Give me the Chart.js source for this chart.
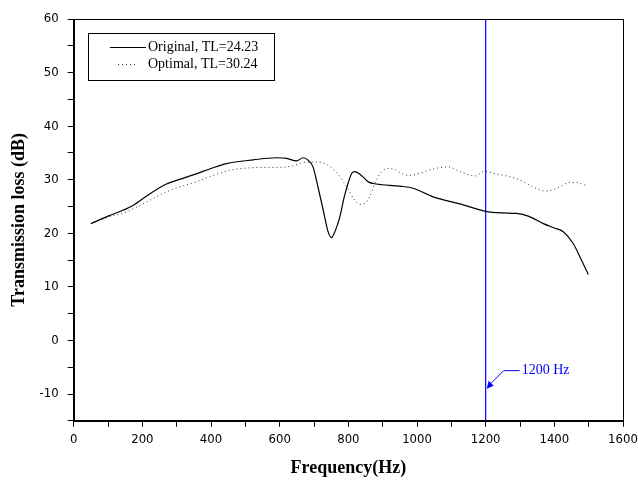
<!DOCTYPE html>
<html>
<head>
<meta charset="utf-8">
<script src="https://cdn.jsdelivr.net/npm/chart.js@4.4.1/dist/chart.umd.min.js"></script>
<style>
  html, body { margin: 0; padding: 0; background: #fff; }
  #wrap { width: 638px; height: 485px; }
</style>
</head>
<body>
<div id="wrap"><canvas id="tlChart"></canvas></div>
<script>
// transmission loss vs frequency
const origFreq = [50, 100, 173, 220, 270, 320, 357, 400, 445, 523, 590, 620, 649, 668, 680, 697, 712, 727, 740, 751, 762, 775, 787, 799, 810, 819, 838, 858, 882, 950, 989, 1047, 1125, 1200, 1250, 1290, 1324, 1368, 1400, 1426, 1455, 1479, 1499];
const origTL   = [21.8, 23.2, 25.2, 27.3, 29.2, 30.3, 31.1, 32.1, 33.0, 33.7, 34.1, 34.0, 33.5, 34.1, 33.8, 32.4, 28.5, 24.3, 20.5, 19.2, 20.5, 23.0, 26.5, 29.3, 31.2, 31.5, 30.8, 29.6, 29.2, 28.8, 28.4, 26.8, 25.5, 24.1, 23.8, 23.7, 23.2, 21.8, 21.0, 20.3, 18.1, 15.0, 12.3];

const optFreq = [50, 100, 153, 202, 240, 280, 320, 357, 406, 464, 510, 552, 600, 639, 668, 707, 736, 765, 795, 815, 833, 848, 862, 877, 892, 916, 935, 960, 980, 1003, 1047, 1091, 1125, 1169, 1198, 1222, 1261, 1290, 1319, 1343, 1373, 1395, 1416, 1445, 1460, 1480, 1494];
const optTL   = [21.8, 23.0, 24.0, 25.5, 26.8, 28.0, 28.9, 29.6, 30.8, 31.9, 32.2, 32.3, 32.3, 32.6, 33.2, 33.3, 32.9, 31.4, 28.7, 26.5, 25.4, 25.6, 26.8, 29.3, 31.1, 32.1, 31.9, 31.0, 30.8, 31.1, 32.0, 32.4, 31.5, 30.7, 31.6, 31.2, 30.7, 30.2, 29.3, 28.5, 27.9, 28.1, 28.7, 29.5, 29.5, 29.2, 28.9];

const seriesNames = ['Original, TL=24.23', 'Optimal, TL=30.24'];
const markerFreq = 1200;
const markerText = '1200 Hz';
const markerArrowTL = -9;
const xMin = 0, xMax = 1600;
const yMin = -15, yMax = 60;

const serif = '"Liberation Serif", "DejaVu Serif", serif';
const tickFont = '"Liberation Sans Narrow", "DejaVu Sans Condensed", "Liberation Sans", sans-serif';

function toPoints(xs, ys) {
  return xs.map((x, i) => ({ x: x, y: ys[i] }));
}

// box around the plot area
const framePlugin = {
  id: 'frame',
  afterDraw(chart) {
    const a = chart.chartArea, ctx = chart.ctx;
    ctx.save();
    ctx.strokeStyle = '#000';
    ctx.lineWidth = 1;
    ctx.strokeRect(Math.round(a.left) + 0.5, Math.round(a.top) + 0.5, Math.round(a.right - a.left), Math.round(a.bottom - a.top));
    ctx.restore();
  }
};

// legend box in upper left corner
const boxLegend = {
  id: 'boxLegend',
  afterDraw(chart) {
    const a = chart.chartArea, ctx = chart.ctx;
    const x0 = Math.round(a.left) + 14, y0 = Math.round(a.top) + 14;
    ctx.save();
    ctx.strokeStyle = '#000';
    ctx.lineWidth = 1;
    ctx.strokeRect(x0 + 0.5, y0 + 0.5, 186, 47);
    ctx.font = '14px ' + serif;
    ctx.fillStyle = '#000';
    ctx.textBaseline = 'middle';
    chart.data.datasets.slice(0, 2).forEach((ds, i) => {
      const yy = y0 + 14.5 + i * 17;
      ctx.beginPath();
      ctx.strokeStyle = ds.borderColor;
      ctx.setLineDash(ds.borderDash || []);
      if (i === 0) { ctx.moveTo(x0 + 22, yy); ctx.lineTo(x0 + 58, yy); }
      else { ctx.moveTo(x0 + 30, yy); ctx.lineTo(x0 + 48, yy); }
      ctx.stroke();
      ctx.setLineDash([]);
      ctx.fillText(ds.label, x0 + 60, yy);
    });
    ctx.restore();
  }
};

// arrow + text pointing at the marker line
const markerNote = {
  id: 'markerNote',
  afterDatasetsDraw(chart) {
    const xs = chart.scales.x, ys = chart.scales.y, ctx = chart.ctx;
    const tipX = xs.getPixelForValue(markerFreq) + 1;
    const tipY = ys.getPixelForValue(markerArrowTL);
    ctx.save();
    ctx.strokeStyle = '#0000ff';
    ctx.fillStyle = '#0000ff';
    ctx.lineWidth = 1;
    ctx.beginPath();
    ctx.moveTo(tipX + 4, tipY - 5);
    ctx.lineTo(tipX + 17, tipY - 18);
    ctx.lineTo(tipX + 33, tipY - 18);
    ctx.stroke();
    ctx.beginPath();
    ctx.moveTo(tipX, tipY);
    ctx.lineTo(tipX + 2, tipY - 8);
    ctx.lineTo(tipX + 7, tipY - 3);
    ctx.closePath();
    ctx.fill();
    ctx.font = '14px ' + serif;
    ctx.textBaseline = 'middle';
    ctx.fillText(markerText, tipX + 35, tipY - 18);
    ctx.restore();
  }
};

new Chart(document.getElementById('tlChart').getContext('2d'), {
  type: 'line',
  data: {
    datasets: [
      {
        label: seriesNames[0],
        data: toPoints(origFreq, origTL),
        borderColor: '#000',
        borderWidth: 1.2,
        pointRadius: 0,
        cubicInterpolationMode: 'monotone'
      },
      {
        label: seriesNames[1],
        data: toPoints(optFreq, optTL),
        borderColor: '#333',
        borderWidth: 1,
        borderDash: [1, 3],
        pointRadius: 0,
        cubicInterpolationMode: 'monotone'
      },
      {
        label: 'marker',
        data: [{ x: markerFreq, y: yMin }, { x: markerFreq, y: yMax }],
        borderColor: '#0000ff',
        borderWidth: 1.2,
        pointRadius: 0
      }
    ]
  },
  options: {
    responsive: true,
    maintainAspectRatio: false,
    animation: false,
    layout: { padding: { top: 19, right: 15, left: 5, bottom: 2 } },
    plugins: { legend: { display: false }, tooltip: { enabled: false } },
    scales: {
      x: {
        type: 'linear',
        min: xMin, max: xMax,
        afterFit: s => { s.paddingRight = 0; },
        grid: { display: true, drawOnChartArea: false, drawTicks: true, tickLength: 6, color: '#000' },
        border: { color: '#000' },
        ticks: {
          stepSize: 100,
          color: '#000',
          font: { family: tickFont, size: 13 },
          padding: 5,
          maxRotation: 0,
          autoSkip: false,
          callback: v => (v % 200 === 0 ? v : '')
        },
        title: { display: true, text: 'Frequency(Hz)', color: '#000', font: { family: serif, size: 18, weight: 'bold' }, padding: { top: 5 } }
      },
      y: {
        min: yMin, max: yMax,
        grid: { display: true, drawOnChartArea: false, drawTicks: true, tickLength: 6, color: '#000' },
        border: { color: '#000' },
        ticks: {
          stepSize: 5,
          color: '#000',
          font: { family: tickFont, size: 13 },
          padding: 9,
          autoSkip: false,
          callback: v => (v % 10 === 0 ? v : '')
        },
        title: { display: true, text: 'Transmission loss (dB)', color: '#000', font: { family: serif, size: 18, weight: 'bold' }, padding: { bottom: 0 } }
      }
    }
  },
  plugins: [framePlugin, boxLegend, markerNote]
});
</script>
</body>
</html>
